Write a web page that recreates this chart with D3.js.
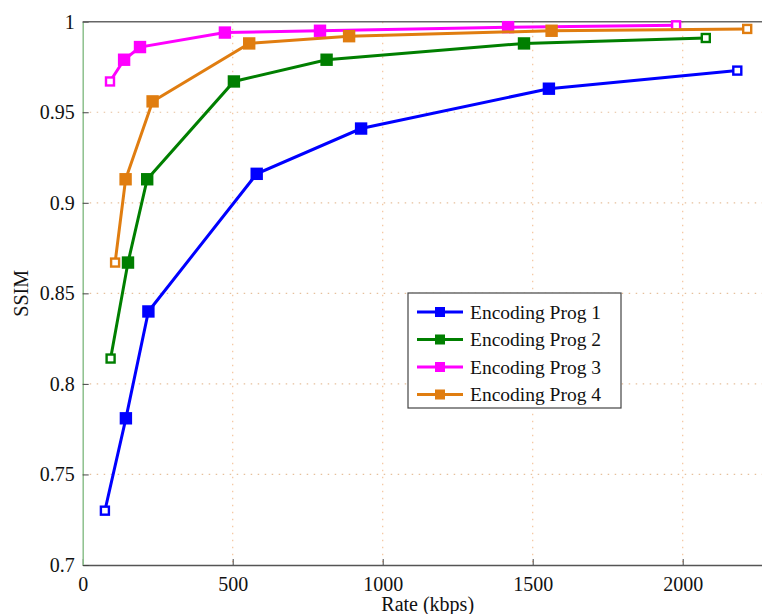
<!DOCTYPE html>
<html>
<head>
<meta charset="utf-8">
<script src="https://cdn.jsdelivr.net/npm/d3@7"></script>
<style>
  body { margin: 0; background: #fff; }
  text { font-family: "Liberation Serif", "DejaVu Serif", serif; }
</style>
</head>
<body>
<script>
// data
var seriesNames = ["Encoding Prog 1", "Encoding Prog 2", "Encoding Prog 3", "Encoding Prog 4"];
var colors = ["#0000ff", "#007f00", "#ff00ff", "#e07d10"];

var rate1 = [74, 144, 219, 580, 928, 1554, 2182];
var ssim1 = [0.730, 0.781, 0.840, 0.916, 0.941, 0.963, 0.973];

var rate2 = [93, 151, 215, 504, 813, 1471, 2077];
var ssim2 = [0.814, 0.867, 0.913, 0.967, 0.979, 0.988, 0.991];

var rate3 = [91, 138, 191, 474, 791, 1418, 1978];
var ssim3 = [0.967, 0.979, 0.986, 0.994, 0.995, 0.997, 0.998];

var rate4 = [108, 143, 233, 555, 888, 1563, 2215];
var ssim4 = [0.867, 0.913, 0.956, 0.988, 0.992, 0.995, 0.996];

var xTicks = [0, 500, 1000, 1500, 2000];
var yTicks = [0.7, 0.75, 0.8, 0.85, 0.9, 0.95, 1];

var rates = [rate1, rate2, rate3, rate4];
var ssims = [ssim1, ssim2, ssim3, ssim4];

var w = 762;
var h = 614;
// plot box (right edge falls outside the picture)
var pLeft = 82.7, pTop = 21.7, pBottom = 565, pRight = 772.7;

var svg = d3.select("body")
            .append("svg")
            .attr("width", w)
            .attr("height", h);

var x = d3.scaleLinear().domain([0, 2300]).range([pLeft, pRight]);
var y = d3.scaleLinear().domain([0.7, 1]).range([pBottom, pTop]);

// dotted grid
svg.selectAll("line.vgrid")
   .data(xTicks.slice(1))
   .enter()
   .append("line")
   .attr("x1", d => x(d)).attr("x2", d => x(d))
   .attr("y1", pTop).attr("y2", pBottom)
   .attr("stroke", "#f3c49c")
   .attr("stroke-width", 1.2)
   .attr("stroke-dasharray", "1.5,5.5");

svg.selectAll("line.hgrid")
   .data(yTicks.slice(1, -1))
   .enter()
   .append("line")
   .attr("x1", pLeft).attr("x2", w)
   .attr("y1", d => y(d)).attr("y2", d => y(d))
   .attr("stroke", "#e6c09c")
   .attr("stroke-width", 1.2)
   .attr("stroke-dasharray", "1.5,5.5");

// axes
var xAxis = d3.axisBottom(x).tickValues(xTicks).tickSizeInner(-6).tickSizeOuter(0).tickPadding(10)
              .tickFormat(d3.format("d"));
var yAxis = d3.axisLeft(y).tickValues(yTicks).tickSizeInner(-6).tickSizeOuter(0).tickPadding(8)
              .tickFormat(d => d === 1 ? "1" : d3.format(".2~f")(d));

var gx = svg.append("g").attr("transform", "translate(0," + pBottom + ")").call(xAxis);
var gy = svg.append("g").attr("transform", "translate(" + pLeft + ",0)").call(yAxis);

gx.select(".domain").attr("stroke", "#555").attr("stroke-width", 1.5);
gy.select(".domain").attr("stroke", "#8cc08c").attr("stroke-width", 1.5);
gx.selectAll(".tick line").attr("stroke", "#444");
gy.selectAll(".tick line").attr("stroke", "#444");
svg.selectAll(".tick text")
   .attr("font-family", "Liberation Serif, serif")
   .attr("font-size", 20)
   .attr("fill", "#111");
gx.selectAll(".tick text").attr("dy", "0.8em");

// top border
svg.append("line")
   .attr("x1", pLeft).attr("x2", pRight)
   .attr("y1", pTop).attr("y2", pTop)
   .attr("stroke", "#666")
   .attr("stroke-width", 1.5);

// axis labels
svg.append("text")
   .text("Rate (kbps)")
   .attr("x", (pLeft + pRight) / 2)
   .attr("y", 611)
   .attr("text-anchor", "middle")
   .attr("font-size", 20)
   .attr("fill", "#111");

svg.append("text")
   .text("SSIM")
   .attr("transform", "translate(28," + ((pTop + pBottom) / 2) + ") rotate(-90)")
   .attr("text-anchor", "middle")
   .attr("font-size", 20)
   .attr("fill", "#111");

// lines and markers
var line = d3.line()
   .x(d => x(d[0]))
   .y(d => y(d[1]));

function isEnd(i, n) { return i === 0 || i === n - 1; }

rates.forEach(function(r, s) {
    var pts = r.map(function(v, i) { return [v, ssims[s][i]]; });
    var n = pts.length;
    var g = svg.append("g");
    g.append("path")
     .datum(pts)
     .attr("d", line)
     .attr("fill", "none")
     .attr("stroke", colors[s])
     .attr("stroke-width", 3);
    g.selectAll("rect")
     .data(pts)
     .enter()
     .append("rect")
     .attr("x", (d, i) => x(d[0]) - (isEnd(i, n) ? 4 : 5))
     .attr("y", (d, i) => y(d[1]) - (isEnd(i, n) ? 4 : 5))
     .attr("width", (d, i) => isEnd(i, n) ? 8 : 10)
     .attr("height", (d, i) => isEnd(i, n) ? 8 : 10)
     .attr("fill", (d, i) => isEnd(i, n) ? "#fff" : colors[s])
     .attr("stroke", colors[s])
     .attr("stroke-width", 2.4);
});

// legend
var lg = svg.append("g").attr("transform", "translate(408,293)");
lg.append("rect")
  .attr("width", 213)
  .attr("height", 115)
  .attr("fill", "#fff")
  .attr("stroke", "#444")
  .attr("stroke-width", 1.2);

var items = lg.selectAll("g.item")
  .data(seriesNames)
  .enter()
  .append("g")
  .attr("transform", function(d, i) { return "translate(0," + (19 + i * 27.5) + ")"; });

items.append("line")
  .attr("x1", 9).attr("x2", 55)
  .attr("stroke", (d, i) => colors[i])
  .attr("stroke-width", 3);
items.append("rect")
  .attr("x", 27).attr("y", -5)
  .attr("width", 10).attr("height", 10)
  .attr("fill", (d, i) => colors[i]);
items.append("text")
  .text(d => d)
  .attr("x", 62)
  .attr("dy", "0.35em")
  .attr("font-size", 19.5)
  .attr("fill", "#111");
</script>
</body>
</html>
